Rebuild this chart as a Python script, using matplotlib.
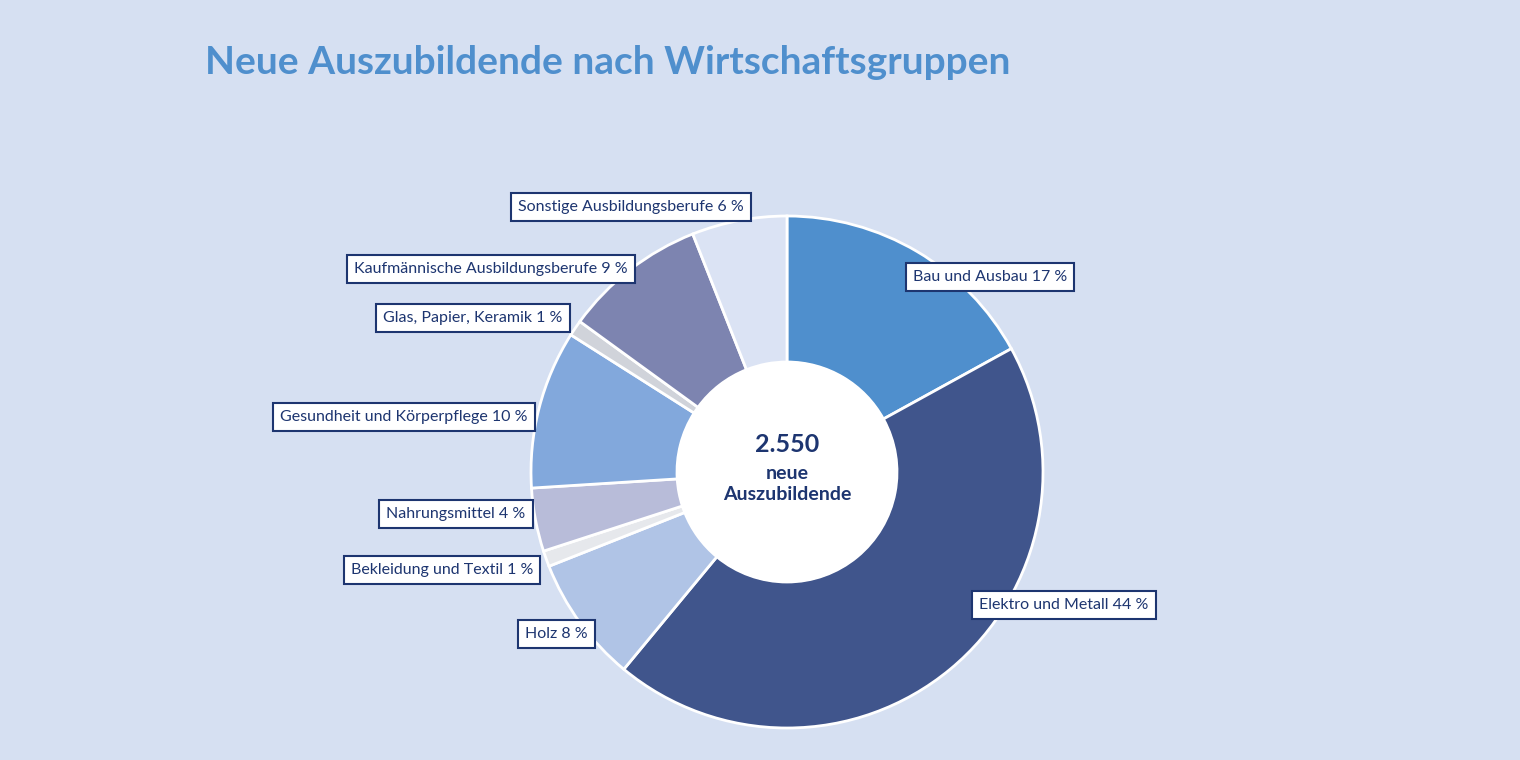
import matplotlib
matplotlib.use("Agg")
import matplotlib.pyplot as plt

# data (clockwise from 12 o'clock)
groups = ["Bau und Ausbau", "Elektro und Metall", "Holz", "Bekleidung und Textil",
          "Nahrungsmittel", "Gesundheit und Körperpflege", "Glas, Papier, Keramik",
          "Kaufmännische Ausbildungsberufe", "Sonstige Ausbildungsberufe"]
shares = [17, 44, 8, 1, 4, 10, 1, 9, 6]
colors = ["#4f8fcd", "#40558c", "#b0c4e6", "#e6e8ec", "#b8bcd9",
          "#82a8dc", "#d0d3da", "#7d84b0", "#dbe3f4"]
# label box centres in image pixels (x, y from top)
label_pos = [(990, 277), (1064, 605), (556, 634), (442, 570), (456, 514),
             (404, 417), (473, 318), (491, 269), (631, 207)]

BG = "#d6e0f2"
NAVY = "#1d3570"
W, H = 1520, 760
cx, cy = 787, 472

fig = plt.figure(figsize=(15.2, 7.6), dpi=100, facecolor=BG)
ax = fig.add_axes([0, 0, 1, 1])
ax.set_xlim(0, W)
ax.set_ylim(0, H)
ax.set_aspect("equal")
ax.axis("off")

ax.pie(shares, colors=colors, center=(cx, H - cy), radius=256, startangle=90,
       counterclock=False, frame=True,
       wedgeprops=dict(width=146, edgecolor="white", linewidth=2))
ax.set_xlim(0, W)
ax.set_ylim(0, H)
ax.axis("off")
ax.add_patch(plt.Circle((cx, H - cy), 110, color="white", zorder=3))

ff = "Lato"
ax.text(cx, H - 444, "2.550", ha="center", va="center", fontsize=18,
        fontweight="bold", color=NAVY, family=ff, zorder=4)
ax.text(cx, H - 484, "neue\nAuszubildende", ha="center", va="center", fontsize=14,
        fontweight="bold", color=NAVY, family=ff, linespacing=1.3, zorder=4)

for g, s, (x, y) in zip(groups, shares, label_pos):
    ax.text(x, H - y, f"{g} {s} %", ha="center", va="center", fontsize=11.5,
            color=NAVY, family=ff, zorder=5,
            bbox=dict(boxstyle="square,pad=0.45", fc="white", ec=NAVY, lw=1.5))

fig.text(205 / W, 1 - 62 / H, "Neue Auszubildende nach Wirtschaftsgruppen",
         ha="left", va="center", fontsize=28, fontweight="bold",
         color="#4f8fcd", family=ff)

fig.savefig("out.png", dpi=100, facecolor=BG)
